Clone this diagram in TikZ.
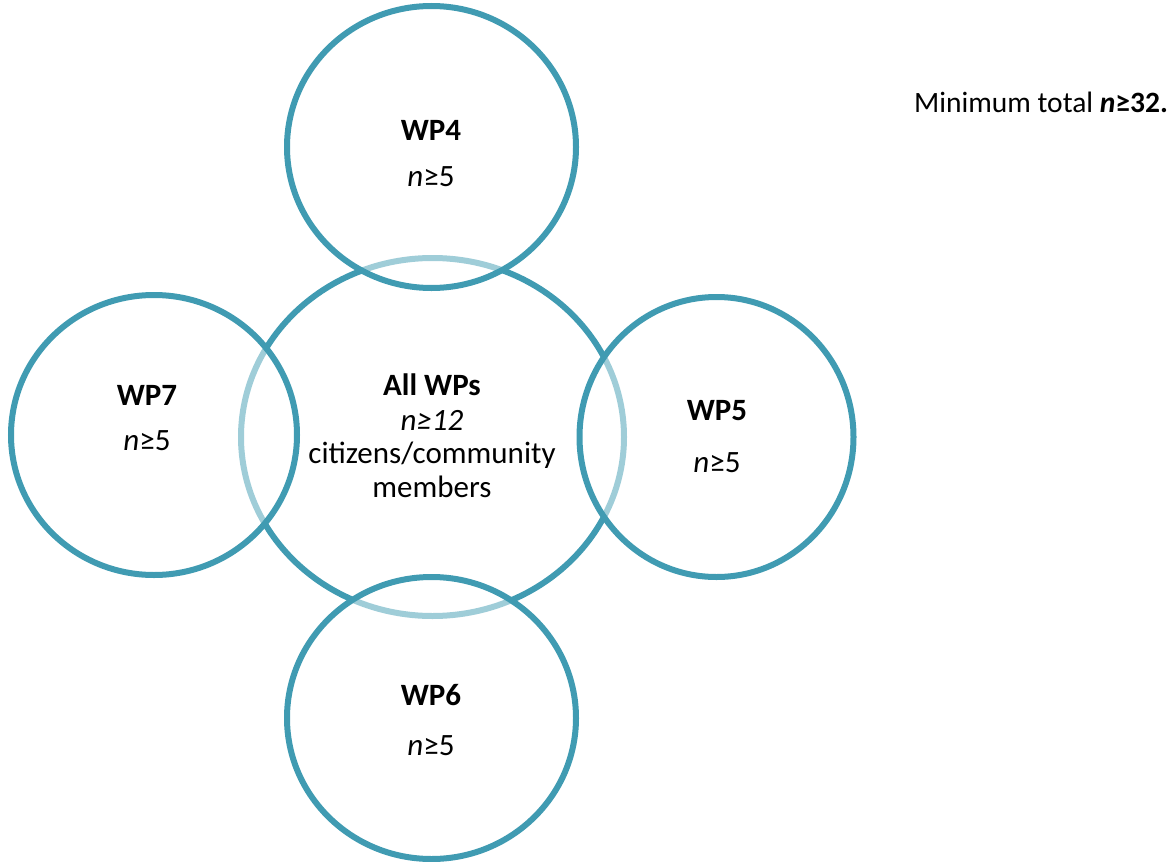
\documentclass[tikz,border=0pt]{standalone}
\usepackage{fontspec}
\setmainfont{Carlito}
\usetikzlibrary{shapes.geometric}
\definecolor{tealdark}{RGB}{64,155,178}
\tikzset{
  ring/.style={ellipse, draw=tealdark, line width=6pt, inner sep=0pt},
  outerring/.style={ring, fill=white, fill opacity=0.5, draw opacity=1},
  lbl/.style={anchor=base, inner sep=0pt, font=\fontsize{31}{37}\selectfont},
}
\begin{document}
\begin{tikzpicture}[x=1pt,y=-1pt]
\useasboundingbox (0,0) rectangle (1173,862);
\node[ring, minimum width=383pt, minimum height=358pt] (all) at (432.5,437) {};
\node[outerring, minimum width=289pt, minimum height=282pt] (wp4) at (431.5,147) {};
\node[outerring, minimum width=286pt, minimum height=280pt] (wp7) at (154,435) {};
\node[outerring, minimum width=274pt, minimum height=280pt] (wp5) at (716.5,437) {};
\node[outerring, minimum width=289pt, minimum height=282pt] (wp6) at (431.5,718) {};
% labels
\node[lbl] (t4) at (431,140) {\textbf{WP4}};
\node[lbl] (n4) at (431,186) {\textit{n}≥5};
\node[lbl] (t7) at (147,405) {\textbf{WP7}};
\node[lbl] (n7) at (147,450) {\textit{n}≥5};
\node[lbl] (t5) at (717,420) {\textbf{WP5}};
\node[lbl] (n5) at (717,472) {\textit{n}≥5};
\node[lbl] (t6) at (431,705) {\textbf{WP6}};
\node[lbl] (n6) at (431,755) {\textit{n}≥5};
\node[lbl] (ta) at (432,395) {\textbf{All WPs}};
\node[lbl] (na) at (432,430) {\textit{n≥12}};
\node[lbl] (ca) at (432,463) {citizens/community};
\node[lbl] (ma) at (432,497) {members};
\node[lbl, font=\fontsize{29.5}{35}\selectfont] (tot) at (1041,112) {Minimum total \textbf{\textit{n}≥32.}};
\end{tikzpicture}
\end{document}
